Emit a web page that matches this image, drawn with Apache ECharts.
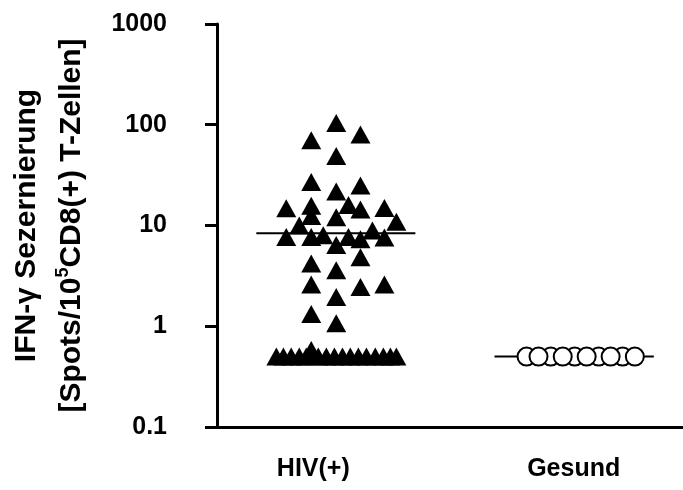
<!DOCTYPE html>
<html>
<head>
<meta charset="utf-8">
<script src="https://cdn.jsdelivr.net/npm/echarts@6/dist/echarts.min.js"></script>
<style>
  html, body { margin: 0; padding: 0; background: #fff; }
  #chart { width: 683px; height: 490px; }
</style>
</head>
<body>
<div id="chart"></div>
<script>
// Groups on the x axis (group i sits at x = i + 1)
const categories = ['HIV(+)', 'Gesund'];

// Log-scale tick values on the y axis
const yTicks = [0.1, 1, 10, 100, 1000];

// IFN-gamma spots per 10^5 CD8+ T cells, HIV(+) donors
const hivValues = [
  104, 80, 70, 49, 27, 25, 21.7, 14.8, 15.7, 16, 14.4, 14.9, 12.4, 12.1, 10.9, 10, 8.9,
  7.7, 7.7, 8.0, 7.7, 7.3, 7.6, 6.4,
  4.85, 4.2, 3.6, 2.6, 2.45, 2.6, 1.95, 1.32, 1.07, 0.58,
  0.5, 0.5, 0.5, 0.5, 0.5, 0.5, 0.5, 0.5, 0.5, 0.5, 0.5, 0.5, 0.5, 0.5, 0.5, 0.5
];
// horizontal scatter offsets (in group widths) for the HIV(+) points
const hivJitter = [
  0.088, 0.181, -0.008, 0.088, -0.008, 0.181, 0.088, -0.104, -0.008, 0.135, 0.181, 0.273, -0.008, 0.088, 0.319, -0.054, 0.227,
  -0.104, -0.008, 0.038, 0.135, 0.181, 0.273, 0.088,
  0.181, -0.008, 0.088, -0.008, 0.181, 0.273, 0.088, -0.008, 0.088, -0.008,
  -0.142, -0.115, -0.085, -0.054, -0.027, 0.019, 0.050, 0.081, 0.112, 0.142, 0.173, 0.204, 0.238, 0.269, 0.296, 0.319
];

// Healthy donors: all below detection, plotted at 0.5
const gesundValues = [0.5, 0.5, 0.5, 0.5, 0.5, 0.5, 0.5, 0.5, 0.5, 0.5];
// offsets listed so that every second circle is painted first
const gesundJitter = [-0.181, -0.088, 0.004, 0.096, 0.188, -0.135, -0.042, 0.050, 0.142, 0.235];

// Medians and the extent of each median bar (group-width offsets)
const medians = [8.4, 0.5];
const medianSpan = [[-0.219, 0.392], [-0.304, 0.308]];

const FONT = '"Liberation Sans", Arial, sans-serif';

const hivData = hivValues.map((v, i) => [1 + hivJitter[i], v]);
const gesundData = gesundValues.map((v, i) => [2 + gesundJitter[i], v]);
const medianSeries = medians.map((m, g) => ({
  type: 'line',
  data: [[g + 1 + medianSpan[g][0], m], [g + 1 + medianSpan[g][1], m]],
  symbol: 'none',
  lineStyle: { color: '#000', width: 2 },
  z: 1,
  silent: true
}));

const chart = echarts.init(document.getElementById('chart'), null, { renderer: 'canvas' });
chart.setOption({
  animation: false,
  backgroundColor: '#fff',
  grid: { left: 217, right: 0, top: 24, bottom: 63 },
  xAxis: {
    type: 'value',
    min: 0.63,
    max: 2.42,
    splitLine: { show: false },
    axisLine: { onZero: false, lineStyle: { color: '#000', width: 3 } },
    axisTick: { show: false },
    axisLabel: {
      customValues: categories.map((c, i) => i + 1),
      formatter: v => categories[Math.round(v) - 1] || '',
      color: '#000',
      fontFamily: FONT,
      fontWeight: 'bold',
      fontSize: 25,
      margin: 30
    }
  },
  yAxis: {
    type: 'log',
    logBase: 10,
    min: yTicks[0],
    max: yTicks[yTicks.length - 1],
    splitLine: { show: false },
    axisLine: { lineStyle: { color: '#000', width: 3 } },
    axisTick: { customValues: yTicks, length: 12, lineStyle: { color: '#000', width: 3 } },
    axisLabel: {
      customValues: yTicks,
      formatter: v => String(v),
      color: '#000',
      fontFamily: FONT,
      fontWeight: 'bold',
      fontSize: 25,
      margin: 50
    },
    name: '{t|IFN-\u03b3 Sezernierung}\n{t|[Spots/10}{s|5}{t|CD8(+) T-Zellen]}',
    nameLocation: 'middle',
    nameGap: 123,
    nameTextStyle: {
      rich: {
        t: { fontFamily: FONT, fontWeight: 'bold', fontSize: 30, color: '#000', lineHeight: 45 },
        s: { fontFamily: FONT, fontWeight: 'bold', fontSize: 18, color: '#000', lineHeight: 45, padding: [0, 0, 16, 0] }
      }
    }
  },
  series: [
    ...medianSeries,
    {
      type: 'scatter',
      data: hivData,
      symbol: 'triangle',
      symbolSize: [20, 18],
      itemStyle: { color: '#000', opacity: 1 },
      z: 2
    },
    {
      type: 'scatter',
      data: gesundData,
      symbol: 'circle',
      symbolSize: 18,
      itemStyle: { color: '#fff', borderColor: '#000', borderWidth: 2, opacity: 1 },
      z: 2
    }
  ]
});
</script>
</body>
</html>
